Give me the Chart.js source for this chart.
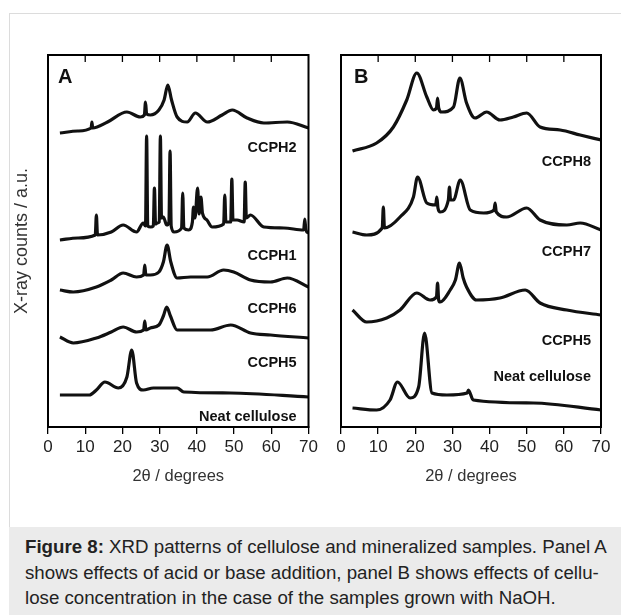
<!DOCTYPE html>
<html>
<head>
<meta charset="utf-8">
<script src="https://cdn.jsdelivr.net/npm/chart.js@4"></script>
<style>
  body { margin: 0; background: #fff; width: 621px; height: 615px; overflow: hidden; position: relative; font-family: "Liberation Sans", Arial, sans-serif; }
  canvas { position: absolute; left: 0; top: 0; }
  #frame { position: absolute; left: 9px; top: 13px; width: 612px; height: 602px; border-top: 1px solid #dcdcdc; border-left: 1px solid #dcdcdc; }
  #caption { position: absolute; left: 9px; top: 527px; width: 596px; height: 81px; padding: 7px 0 0 16px; background: #ebebeb; color: #222; font-size: 18.7px; line-height: 25.5px; white-space: nowrap; }
</style>
</head>
<body>
<div id="frame"></div>
<canvas id="panelA" width="621" height="615"></canvas>
<canvas id="panelB" width="621" height="615"></canvas>
<div id="caption"><b>Figure 8:</b> XRD patterns of cellulose and mineralized samples. Panel A<br>shows effects of acid or base addition, panel B shows effects of cellu-<br>lose concentration in the case of the samples grown with NaOH.</div>

<script>
// tick labels of the 2theta axis
const thetaTicks = [0, 10, 20, 30, 40, 50, 60, 70];

// panel A (stacked, counts in a.u. incl. offset)
const aCCPH2_2t  = [3.2, 8, 11.6, 11.8, 12.0, 16, 21.2, 24.8, 25.9, 26.2, 26.5, 27.5, 29.8, 31.2, 32.2, 33.2, 34.7, 37.4, 39.6, 42.8, 46.8, 49.5, 53.5, 58.0, 64.3, 70];
const aCCPH2_cts = [294, 296, 299, 305, 299, 305, 315, 310, 312, 325, 313, 312, 317, 327, 342, 327, 310, 305, 314, 305, 312, 317, 309, 304, 305, 299];

const aCCPH1_2t  = [3.2, 8, 12.7, 13.0, 13.3, 17, 20.2, 23.8, 25.6, 26.2, 26.5, 26.8, 27.6, 28.3, 28.6, 28.9, 29.4, 29.9, 30.2, 30.5, 31.0, 31.9, 32.5, 32.8, 33.1, 33.9, 35.9, 36.2, 36.5, 37.8, 38.8, 39.1, 39.5, 40.2, 40.6, 41.1, 41.5, 42.7, 44.1, 47.2, 47.5, 47.8, 49.1, 49.4, 49.7, 50.8, 52.7, 53.0, 53.3, 54.4, 58, 63.4, 68.7, 69.0, 69.3, 70];
const aCCPH1_cts = [187, 189, 192, 212, 192, 195, 202, 195, 204, 201, 291, 201, 200, 201, 239, 203, 204, 205, 291, 209, 210, 202, 205, 276, 201, 195, 199, 234, 199, 197, 205, 220, 209, 239, 213, 230, 214, 207, 200, 203, 232, 205, 205, 248, 207, 207, 205, 245, 209, 212, 200, 199, 197, 208, 197, 194];

const aCCPH6_2t  = [3.2, 6.8, 13.0, 17, 20.2, 23.8, 25.7, 26.0, 26.3, 27.5, 29.8, 31.0, 32.0, 33.0, 34.7, 38.3, 42.8, 47.2, 49.9, 54.4, 59.8, 64.3, 70];
const aCCPH6_cts = [137, 135, 140, 147, 154, 150, 152, 162, 152, 152, 155, 165, 182, 165, 149, 150, 150, 157, 155, 147, 145, 149, 140];

const aCCPH5_2t  = [3.2, 6.8, 13.0, 17, 20.2, 23.8, 25.7, 26.0, 26.3, 27.5, 29.8, 31.0, 31.9, 32.9, 34.7, 39.2, 43.7, 49.1, 54.4, 59.8, 70];
const aCCPH5_cts = [90, 84, 89, 95, 100, 95, 97, 106, 97, 99, 102, 111, 120, 111, 97, 97, 97, 102, 94, 92, 89];

const aNeat_2t   = [3.2, 11.1, 13.0, 15.3, 18.9, 21.2, 22.5, 23.8, 25.6, 28.3, 34.7, 36.5, 49.1, 70];
const aNeat_cts  = [32, 32, 37, 45, 39, 50, 77, 44, 37, 39, 39, 35, 34, 30];

// panel B
const bCCPH8_2t  = [3.1, 9.6, 14.1, 17.7, 20.4, 23.1, 24.9, 25.7, 26.0, 26.3, 27.1, 30.3, 32.0, 33.8, 36.1, 39.2, 42.8, 46.4, 50.0, 53.6, 59.0, 64.4, 70];
const bCCPH8_cts = [276, 284, 300, 327, 354, 330, 317, 319, 329, 319, 315, 320, 349, 324, 309, 315, 307, 310, 314, 300, 297, 292, 287];

const bCCPH7_2t  = [3.1, 6.9, 11.1, 11.4, 11.7, 15.9, 19.5, 20.6, 23.1, 25.5, 25.8, 26.1, 26.7, 28.9, 29.2, 29.5, 30.3, 32.1, 34.8, 38.4, 41.2, 41.5, 41.8, 44.6, 50.0, 53.6, 60.8, 64.4, 70];
const bCCPH7_cts = [195, 192, 199, 220, 199, 210, 230, 250, 224, 222, 230, 219, 215, 227, 240, 227, 227, 247, 217, 214, 217, 224, 215, 210, 219, 207, 202, 204, 197];

const bCCPH5_2t  = [3.1, 6.9, 12.3, 15.9, 20.4, 24.0, 25.7, 26.0, 26.3, 26.7, 29.4, 30.8, 31.9, 32.9, 33.8, 36.5, 42.8, 49.6, 53.6, 60.8, 70];
const bCCPH5_cts = [117, 105, 109, 117, 134, 127, 130, 144, 127, 125, 137, 147, 164, 149, 140, 127, 129, 137, 124, 117, 112];

const bNeat_2t   = [3.1, 9.6, 13.2, 15.2, 18.6, 20.9, 22.5, 24.5, 28.5, 34.0, 34.3, 35.6, 51.8, 70];
const bNeat_cts  = [19, 17, 27, 45, 29, 40, 94, 34, 32, 34, 37, 27, 24, 17];

const namesA = ['CCPH2', 'CCPH1', 'CCPH6', 'CCPH5', 'Neat cellulose'];
const namesB = ['CCPH8', 'CCPH7', 'CCPH5', 'Neat cellulose'];

const FONT = '"Liberation Sans", Arial, sans-serif';
Chart.defaults.font.family = FONT;

// where the sample names sit (2theta of right edge, counts)
const namePosA = [[66.8, 279], [66.8, 171], [66.8, 118], [66.8, 64], [66.8, 10]];
const namePosB = [[67.3, 265], [67.3, 175], [67.3, 86], [67.3, 50]];

function toPoints(xs, ys) {
    return xs.map((x, i) => ({ x: x, y: ys[i] }));
}

function makePanel(id, curves, names, namePos, letter, padLeft, padRight, yTitle) {
    const frame = {
        id: 'frame' + letter,
        afterDraw(chart) {
            const c = chart.ctx;
            const a = chart.chartArea;
            const xs = chart.scales.x;
            c.save();
            c.strokeStyle = '#000';
            c.lineWidth = 2;
            c.strokeRect(a.left, a.top, a.right - a.left, a.bottom - a.top);
            // inward ticks on top edge
            c.lineWidth = 1.3;
            thetaTicks.slice(1, -1).forEach(t => {
                const px = xs.getPixelForValue(t);
                c.beginPath();
                c.moveTo(px, a.top);
                c.lineTo(px, a.top + 7);
                c.stroke();
            });
            c.fillStyle = '#111';
            c.font = 'bold 20px ' + FONT;
            c.textAlign = 'left';
            c.textBaseline = 'alphabetic';
            c.fillText(letter, a.left + (letter == 'A' ? 10 : 13), a.top + 28);
            c.font = 'bold 14.5px ' + FONT;
            c.textAlign = 'right';
            c.textBaseline = 'middle';
            names.forEach((n, i) => {
                c.fillText(n, xs.getPixelForValue(namePos[i][0]), chart.scales.y.getPixelForValue(namePos[i][1]));
            });
            c.fillStyle = '#333';
            c.font = '16.5px ' + FONT;
            c.textAlign = 'center';
            c.fillText('2\u03B8 / degrees', (a.left + a.right) / 2, 476);
            if (yTitle) {
                c.font = '18px ' + FONT;
                c.translate(22, 241);
                c.rotate(-Math.PI / 2);
                c.fillText(yTitle, 0, 0);
            }
            c.restore();
        }
    };

    return new Chart(document.getElementById(id), {
        type: 'line',
        data: {
            datasets: curves.map(cv => ({
                data: toPoints(cv[0], cv[1]),
                borderColor: '#111',
                borderWidth: 3.2,
                borderJoinStyle: 'round',
                pointRadius: 0,
                cubicInterpolationMode: 'monotone'
            }))
        },
        options: {
            responsive: false,
            animation: false,
            events: [],
            layout: { padding: { left: padLeft, right: padRight, top: 55, bottom: 158 } },
            plugins: { legend: { display: false }, tooltip: { enabled: false } },
            scales: {
                x: {
                    type: 'linear', min: 0, max: 70,
                    afterBuildTicks: s => { s.ticks = thetaTicks.map(v => ({ value: v })); },
                    ticks: { color: '#222', font: { size: 17 }, padding: 3, maxRotation: 0 },
                    grid: { drawOnChartArea: false, tickLength: 7, color: '#000', lineWidth: 1.3 },
                    border: { display: true, color: '#000', width: 2 },
                    afterFit: s => { s.height = 30; }
                },
                y: { type: 'linear', min: 0, max: 372, display: false }
            }
        },
        plugins: [frame]
    });
}

makePanel('panelA',
    [[aCCPH2_2t, aCCPH2_cts], [aCCPH1_2t, aCCPH1_cts], [aCCPH6_2t, aCCPH6_cts], [aCCPH5_2t, aCCPH5_cts], [aNeat_2t, aNeat_cts]],
    namesA, namePosA, 'A', 48, 312.5, 'X-ray counts / a.u.');

makePanel('panelB',
    [[bCCPH8_2t, bCCPH8_cts], [bCCPH7_2t, bCCPH7_cts], [bCCPH5_2t, bCCPH5_cts], [bNeat_2t, bNeat_cts]],
    namesB, namePosB, 'B', 341, 20, null);
</script>
</body>
</html>
